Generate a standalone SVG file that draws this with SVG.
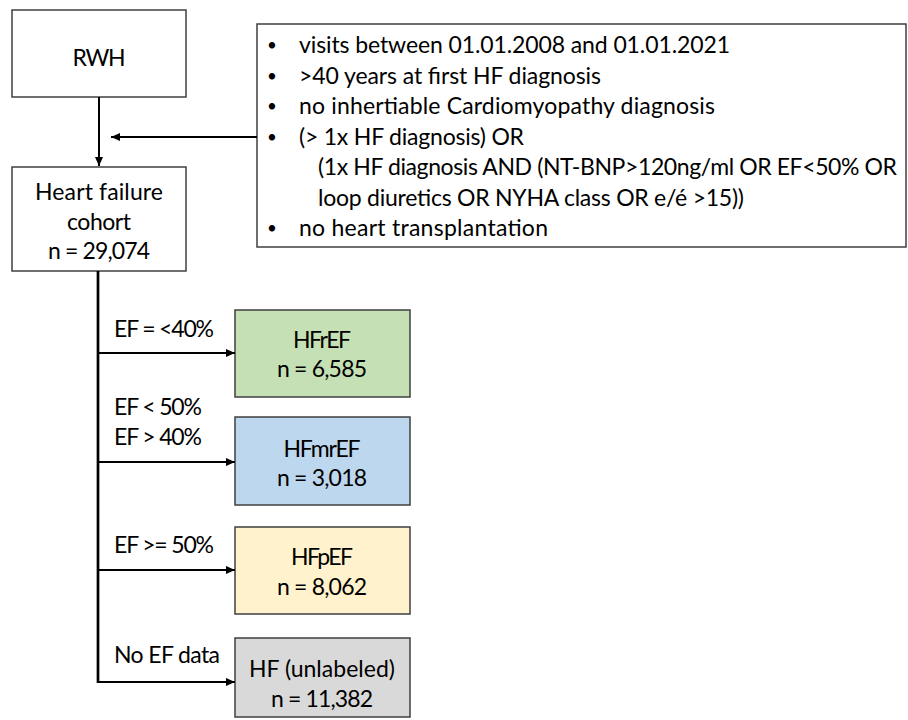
<svg xmlns="http://www.w3.org/2000/svg" width="908" height="720" viewBox="0 0 908 720">
<defs>
<style>
text{font-family:Lato,"Liberation Sans",sans-serif;fill:#000}
.box{fill:#fff;stroke:#3f3f3f;stroke-width:1.5}
.t{font-size:23px;text-anchor:middle}
.l{font-size:23px}
.c text{font-size:23px}
.c .b{text-anchor:middle;font-size:17px}
.ln{fill:none;stroke:#000;stroke-width:2}
.trunk{fill:none;stroke:#000;stroke-width:2.7}
</style>
<marker id="ah" viewBox="0 0 9 8" refX="9" refY="4" markerWidth="9" markerHeight="8" orient="auto" markerUnits="userSpaceOnUse">
<path d="M0,0L9,4L0,8z" fill="#000"/>
</marker>
</defs>
<rect width="908" height="720" fill="#fff"/>
<g id="rwh">
<rect class="box" x="12" y="10" width="174" height="87"/>
<text class="t" x="99" y="66" textLength="53" lengthAdjust="spacing">RWH</text>
</g>
<g id="criteria">
<rect class="box" x="257" y="24" width="649" height="223"/>
<g class="c">
<text class="b" x="272" y="51">•</text><text x="299" y="53" textLength="431" lengthAdjust="spacing">visits between 01.01.2008 and 01.01.2021</text>
<text class="b" x="272" y="82">•</text><text x="299" y="84" textLength="302" lengthAdjust="spacing">&gt;40 years at first HF diagnosis</text>
<text class="b" x="272" y="112">•</text><text x="299" y="114" textLength="416" lengthAdjust="spacing">no inhertiable Cardiomyopathy diagnosis</text>
<text class="b" x="272" y="143">•</text><text x="299" y="145" textLength="225" lengthAdjust="spacing">(&gt; 1x HF diagnosis) OR</text>
<text x="318" y="175" textLength="579" lengthAdjust="spacing">(1x HF diagnosis AND (NT-BNP&gt;120ng/ml OR EF&lt;50% OR</text>
<text x="318" y="206" textLength="426" lengthAdjust="spacing">loop diuretics OR NYHA class OR e/é &gt;15))</text>
<text class="b" x="272" y="234">•</text><text x="299" y="236" textLength="249" lengthAdjust="spacing">no heart transplantation</text>
</g>
</g>
<g id="hf">
<rect class="box" x="12" y="167" width="174" height="104"/>
<text class="t" x="99" y="200" textLength="128" lengthAdjust="spacing">Heart failure</text>
<text class="t" x="99" y="230" textLength="64" lengthAdjust="spacing">cohort</text>
<text class="t" x="99" y="259" textLength="102" lengthAdjust="spacing">n = 29,074</text>
</g>
<g id="hfref">
<rect class="box" x="235" y="310" width="175" height="87" style="fill:#C5E0B4"/>
<text class="t" x="322" y="348" textLength="58" lengthAdjust="spacing">HFrEF</text>
<text class="t" x="322" y="377" textLength="90" lengthAdjust="spacing">n = 6,585</text>
</g>
<g id="hfmref">
<rect class="box" x="235" y="417" width="175" height="88" style="fill:#BDD7EE"/>
<text class="t" x="322" y="457" textLength="77" lengthAdjust="spacing">HFmrEF</text>
<text class="t" x="322" y="486" textLength="90" lengthAdjust="spacing">n = 3,018</text>
</g>
<g id="hfpef">
<rect class="box" x="235" y="527" width="175" height="87" style="fill:#FFF2CC"/>
<text class="t" x="322" y="565" textLength="62" lengthAdjust="spacing">HFpEF</text>
<text class="t" x="322" y="595" textLength="90" lengthAdjust="spacing">n = 8,062</text>
</g>
<g id="hfunl">
<rect class="box" x="235" y="638" width="175" height="79" style="fill:#D9D9D9"/>
<text class="t" x="322" y="677" textLength="146" lengthAdjust="spacing">HF (unlabeled)</text>
<text class="t" x="322" y="707" textLength="102" lengthAdjust="spacing">n = 11,382</text>
</g>
<g id="connectors">
<line class="ln" x1="99" y1="97" x2="99" y2="166" marker-end="url(#ah)"/>
<line class="ln" x1="257" y1="137" x2="111" y2="137" marker-end="url(#ah)"/>
<path class="trunk" d="M98,271V683"/>
<line class="ln" x1="98" y1="353" x2="235" y2="353" marker-end="url(#ah)"/>
<line class="ln" x1="98" y1="462" x2="235" y2="462" marker-end="url(#ah)"/>
<line class="ln" x1="98" y1="570" x2="235" y2="570" marker-end="url(#ah)"/>
<line class="ln" x1="97" y1="682" x2="235" y2="682" marker-end="url(#ah)"/>
<text class="l" x="114" y="337" textLength="100" lengthAdjust="spacing">EF = &lt;40%</text>
<text class="l" x="114" y="415" textLength="88" lengthAdjust="spacing">EF &lt; 50%</text>
<text class="l" x="114" y="445" textLength="88" lengthAdjust="spacing">EF &gt; 40%</text>
<text class="l" x="114" y="553" textLength="100" lengthAdjust="spacing">EF &gt;= 50%</text>
<text class="l" x="114" y="663" textLength="106" lengthAdjust="spacing">No EF data</text>
</g>
</svg>
